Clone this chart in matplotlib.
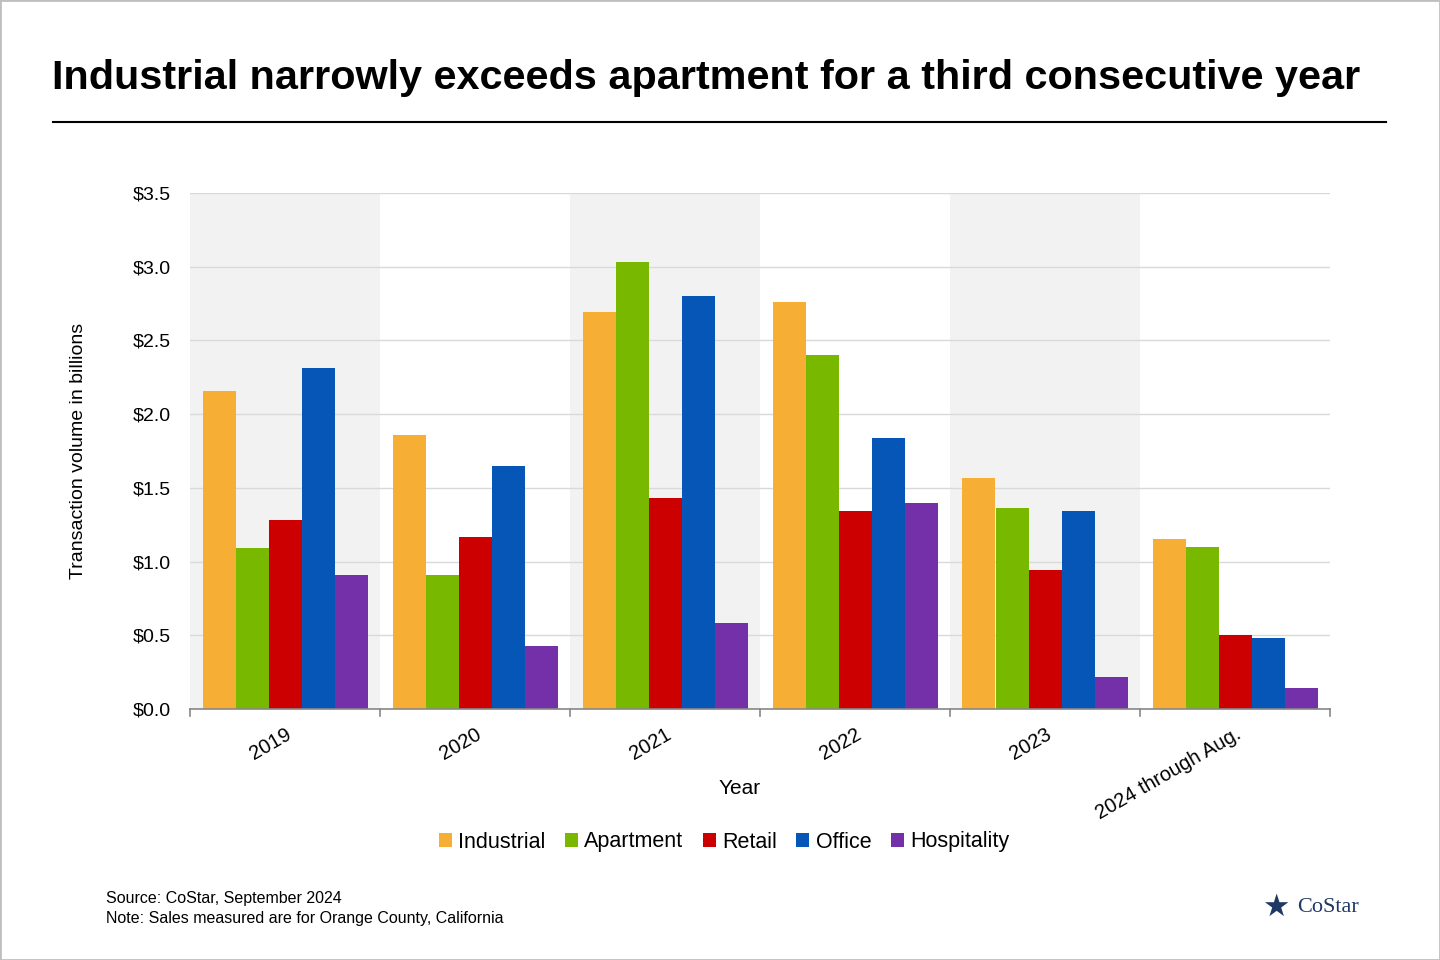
import matplotlib.pyplot as plt
import numpy as np
from matplotlib.lines import Line2D
from matplotlib.patches import Rectangle

years = ['2019', '2020', '2021', '2022', '2023', '2024 through Aug.']
series = ['Industrial', 'Apartment', 'Retail', 'Office', 'Hospitality']
colors = ['#f6ae34', '#78b900', '#cc0000', '#0656b8', '#7430a8']
industrial = [2.16, 1.86, 2.69, 2.76, 1.57, 1.15]
apartment = [1.09, 0.91, 3.03, 2.40, 1.36, 1.10]
retail = [1.28, 1.17, 1.43, 1.34, 0.94, 0.50]
office = [2.31, 1.65, 2.80, 1.84, 1.34, 0.48]
hospitality = [0.91, 0.43, 0.58, 1.40, 0.22, 0.14]
values = [industrial, apartment, retail, office, hospitality]

plt.rcParams['font.family'] = ['Liberation Sans', 'DejaVu Sans']
fig = plt.figure(figsize=(14.4, 9.6), dpi=100)
ax = fig.add_axes([190/1440, 1-709/960, 1140/1440, 516/960])

x = np.arange(len(years))
w = 33/190
for i in range(0, len(years), 2):
    ax.axvspan(i-0.5, i+0.5, color='#f2f2f2', zorder=0, lw=0)
for j, (name, vals, c) in enumerate(zip(series, values, colors)):
    ax.bar(x + (j-2)*w, vals, w, color=c, label=name, zorder=2)

ax.set_xlim(-0.5, len(years)-0.5)
ax.set_ylim(0, 3.5)
ax.set_yticks(np.arange(0, 3.51, 0.5))
ax.set_yticklabels([f'${v:.1f}' for v in np.arange(0, 3.51, 0.5)], fontsize=14)
ax.yaxis.grid(True, color='#d9d9d9', lw=1, zorder=1)
ax.tick_params(axis='y', length=0, pad=14)
ax.set_xticks(x)
ax.set_xticklabels(years, rotation=30, ha='right', rotation_mode='anchor', fontsize=14.5)
ax.tick_params(axis='x', length=0, pad=11)
for b in np.arange(-0.5, len(years), 1):
    ax.plot([b, b], [0, -0.05], color='#888888', lw=1.2, clip_on=False)
for s in ['top', 'right', 'left']:
    ax.spines[s].set_visible(False)
ax.spines['bottom'].set_color('#888888')
ax.spines['bottom'].set_linewidth(1.2)
ax.set_ylabel('Transaction volume in billions', fontsize=14, labelpad=33)
fig.text(740/1440, 1-789/960, 'Year', fontsize=15, ha='center', va='center')

fig.legend(loc='center', bbox_to_anchor=(724/1440, 1-842/960), ncol=5, frameon=False,
           fontsize=15.5, handlelength=0.6, handleheight=0.6, handletextpad=0.3, columnspacing=0.9)

fig.text(52/1440, 1-78/960, 'Industrial narrowly exceeds apartment for a third consecutive year',
         fontsize=29.8, fontweight='bold', va='center')
fig.add_artist(Line2D([53/1440, 1386/1440], [1-122/960, 1-122/960], color='black', lw=1.5))
fig.text(106/1440, 1-899/960, 'Source: CoStar, September 2024', fontsize=11.5, va='center')
fig.text(106/1440, 1-918/960, 'Note: Sales measured are for Orange County, California', fontsize=11.5, va='center')
fig.text(1276/1440, 1-907/960, '\u2605', fontsize=22, color='#1f3864', ha='center', va='center',
         family=['DejaVu Sans'])
fig.text(1297/1440, 1-907/960, 'CoStar', fontsize=16, color='#1f3864', va='center', family=['Liberation Serif'])
fig.add_artist(Rectangle((0, 0), 1, 1, transform=fig.transFigure, fill=False, ec='#bfbfbf', lw=2))

fig.savefig('out.png', dpi=100)
